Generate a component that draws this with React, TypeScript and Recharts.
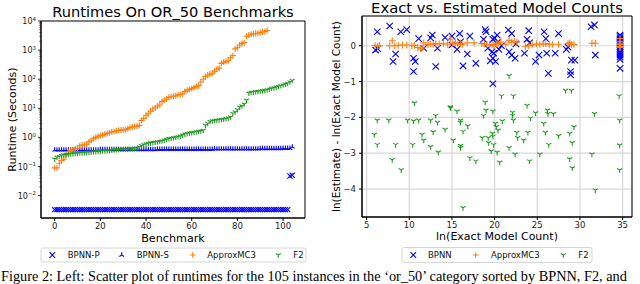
import React from "react";
import { ScatterChart, Scatter, XAxis, YAxis, CartesianGrid, ReferenceArea } from "recharts";

const FONT = "'DejaVu Sans', sans-serif";
const BLUE = "#0000ff";
const ORANGE = "#ff7f0e";
const GREEN = "#1f9a1f";

// left panel: runtime in seconds per benchmark (each series sorted)
const bpnnPRuntime = [
  0.0033, 0.0033, 0.0033, 0.0033, 0.0033, 0.0033, 0.0033, 0.0033, 0.0033, 0.0033,
  0.0033, 0.0033, 0.0033, 0.0033, 0.0033, 0.0033, 0.0033, 0.0033, 0.0033, 0.0033,
  0.0033, 0.0033, 0.0033, 0.0033, 0.0033, 0.0033, 0.0033, 0.0033, 0.0033, 0.0033,
  0.0033, 0.0033, 0.0033, 0.0033, 0.0033, 0.0033, 0.0033, 0.0033, 0.0033, 0.0033,
  0.0033, 0.0033, 0.0033, 0.0033, 0.0033, 0.0033, 0.0033, 0.0033, 0.0033, 0.0033,
  0.0033, 0.0033, 0.0033, 0.0033, 0.0033, 0.0033, 0.0033, 0.0033, 0.0033, 0.0033,
  0.0033, 0.0033, 0.0033, 0.0033, 0.0033, 0.0033, 0.0033, 0.0033, 0.0033, 0.0033,
  0.0033, 0.0033, 0.0033, 0.0033, 0.0033, 0.0033, 0.0033, 0.0033, 0.0033, 0.0033,
  0.0033, 0.0033, 0.0033, 0.0033, 0.0033, 0.0033, 0.0033, 0.0033, 0.0033, 0.0033,
  0.0033, 0.0033, 0.0033, 0.0033, 0.0033, 0.0033, 0.0033, 0.0033, 0.0033, 0.0033,
  0.0033, 0.0033, 0.0033, 0.047, 0.05,
];
const bpnnSRuntime = [
  0.37, 0.37, 0.37, 0.37, 0.37, 0.37, 0.37, 0.37, 0.37, 0.37,
  0.37, 0.37, 0.37, 0.37, 0.37, 0.37, 0.37, 0.37, 0.37, 0.37,
  0.38, 0.38, 0.38, 0.38, 0.38, 0.38, 0.38, 0.38, 0.38, 0.38,
  0.38, 0.38, 0.38, 0.38, 0.38, 0.38, 0.38, 0.38, 0.38, 0.38,
  0.38, 0.38, 0.38, 0.38, 0.38, 0.39, 0.39, 0.39, 0.39, 0.39,
  0.39, 0.39, 0.39, 0.39, 0.39, 0.39, 0.39, 0.39, 0.39, 0.39,
  0.39, 0.39, 0.39, 0.39, 0.39, 0.39, 0.39, 0.39, 0.39, 0.39,
  0.40, 0.40, 0.40, 0.40, 0.40, 0.40, 0.40, 0.40, 0.40, 0.40,
  0.40, 0.40, 0.40, 0.40, 0.40, 0.40, 0.40, 0.40, 0.40, 0.40,
  0.41, 0.41, 0.41, 0.41, 0.41, 0.41, 0.41, 0.41, 0.41, 0.41,
  0.42, 0.42, 0.42, 0.42, 0.47,
];
const approxMC3Runtime = [
  0.09, 0.09, 0.13, 0.16, 0.18, 0.25, 0.32, 0.35, 0.37, 0.4,
  0.42, 0.52, 0.55, 0.56, 0.58, 0.7, 0.8, 0.92, 1.0, 1.1,
  1.15, 1.2, 1.3, 1.37, 1.45, 1.55, 1.6, 1.65, 1.75, 1.8,
  1.8, 1.85, 2.0, 2.2, 2.3, 2.35, 2.4, 2.6, 3.8, 4.5,
  5.8, 6.5, 8.0, 9.5, 10.5, 12, 13, 17, 19, 21,
  24, 25, 26, 27, 29, 30, 31, 38, 42, 44,
  48, 52, 56, 60, 80, 100, 125, 140, 150, 160,
  190, 220, 240, 350, 380, 410, 430, 550, 650, 1100,
  1200, 1500, 1700, 1800, 3000, 3300, 3500, 3600, 3700, 3800,
  4000, 4200, 4400, 4700,
];
const f2Runtime = [
  0.18, 0.21, 0.22, 0.24, 0.25, 0.26, 0.26, 0.27, 0.27, 0.28,
  0.28, 0.29, 0.29, 0.3, 0.3, 0.31, 0.31, 0.32, 0.32, 0.33,
  0.33, 0.34, 0.34, 0.35, 0.35, 0.36, 0.37, 0.38, 0.38, 0.39,
  0.39, 0.4, 0.4, 0.41, 0.41, 0.42, 0.43, 0.46, 0.52, 0.56,
  0.6, 0.62, 0.65, 0.66, 0.68, 0.7, 0.72, 0.75, 0.8, 0.85,
  0.9, 0.93, 0.97, 1.0, 1.05, 1.1, 1.2, 1.3, 1.35, 1.4,
  1.45, 1.5, 1.55, 1.6, 1.65, 1.75, 2.6, 3.0, 3.5, 3.7,
  3.8, 3.9, 4.0, 4.1, 4.2, 4.4, 4.6, 5.0, 6.7, 7.5,
  9.0, 11, 12, 14, 19, 33, 35, 36, 37, 38,
  39, 40, 41, 43, 45, 48, 50, 53, 56, 60,
  63, 68, 72, 80, 90,
];
const runtimeTicksX = [0, 20, 40, 60, 80, 100];
const runtimeDecades = [0.01, 0.1, 1, 10, 100, 1000, 10000];

// right panel: x = ln(exact count), y = ln(estimate) - ln(exact)
const bpnnLnExact = [
  6.05, 6.25, 6.3, 7.7, 8.1, 8.4, 9.0, 9.7, 10.5, 10.5,
  10.7, 11.1, 11.7, 12.5, 12.7, 13.1, 13.3, 14.2, 15.0, 15.0,
  15.6, 15.9, 16.0, 16.3, 16.8, 17.1, 17.8, 18.7, 18.9, 19.0,
  19.2, 19.5, 19.7, 19.8, 19.9, 19.8, 19.8, 20.0, 20.1, 20.3,
  20.4, 20.5, 20.8, 21.6, 21.7, 22.0, 22.0, 22.4, 22.5, 23.5,
  23.8, 24.0, 24.1, 24.8, 25.2, 25.8, 26.0, 26.1, 26.3, 27.1,
  27.5, 28.4, 28.6, 28.9, 28.9, 29.0, 29.4, 31.3, 31.7, 31.8,
  34.7, 34.7, 34.7, 34.7, 34.7, 34.7, 34.7, 34.7, 34.7, 34.7,
  34.7, 34.7, 34.7, 34.7, 34.7,
];
const bpnnLnError = [
  -0.12, 0.39, -0.08, 0.55, -0.44, -0.23, 0.39, 0.45, -0.35, -0.72,
  -0.44, 0.2, -0.07, 0.22, 0.3, -0.58, -0.07, 0.23, 0.27, 0.02,
  -0.1, 0.34, 0.11, -0.56, -0.23, 0.27, -0.49, 0.18, 0.45, 0.39,
  -0.07, -0.42, -0.17, 0.18, -0.21, -0.35, -1.06, 0.21, -0.44, 0.3,
  0.11, -0.1, 0.0, 0.44, -0.17, 0.34, -0.26, -0.35, 0.05, -0.21,
  0.18, 0.42, 0.08, -0.44, -0.26, 0.39, 0.2, -0.21, -0.77, -0.21,
  0.34, -0.1, -0.04, -0.81, -0.72, -0.4, -0.4, 0.53, 0.58, -0.26,
  0.3, 0.26, 0.22, 0.18, 0.13, 0.08, 0.03, -0.03, -0.08, -0.14,
  -0.2, -0.26, -0.32, -0.38, -0.63,
];
const approxLnExact = [
  6.0, 6.3, 6.5, 7.7, 8.0, 8.3, 8.7, 9.2, 9.7, 10.3,
  10.6, 11.0, 11.3, 11.5, 11.7, 12.2, 12.5, 12.8, 13.1, 13.5,
  14.0, 14.5, 14.8, 15.1, 15.4, 15.7, 16.0, 16.2, 16.8, 17.6,
  18.5, 18.8, 19.1, 19.4, 19.7, 19.9, 20.2, 20.4, 20.7, 21.3,
  21.7, 22.0, 22.3, 22.6, 23.6, 24.0, 24.4, 24.9, 25.3, 25.7,
  26.0, 26.4, 26.8, 27.5, 28.6, 28.8, 29.0, 29.3, 31.4, 31.8,
  34.7, 34.7, 34.7, 34.7, 34.7, 34.7,
];
const approxLnError = [
  0.0, -0.02, 0.0, 0.0, 0.14, 0.0, 0.01, 0.02, 0.02, 0.0,
  0.01, -0.05, -0.09, -0.06, 0.08, 0.03, 0.05, 0.04, 0.06, 0.05,
  0.07, 0.04, 0.18, 0.06, 0.08, 0.05, 0.06, 0.04, 0.08, 0.08,
  0.06, 0.05, 0.04, 0.02, 0.03, 0.0, 0.05, 0.07, 0.1, 0.04,
  0.15, 0.1, 0.12, 0.1, -0.03, 0.0, 0.03, 0.05, 0.04, 0.05,
  0.06, 0.04, 0.04, 0.04, 0.06, 0.08, 0.03, 0.03, 0.07, 0.07,
  0.2, 0.12, 0.07, 0.03, -0.02, -0.05,
];
const f2LnExact = [
  5.9, 6.25, 6.25, 7.6, 8.0, 8.4, 9.06, 9.8, 10.4, 10.5,
  10.6, 11.1, 11.5, 11.7, 12.5, 12.5, 12.8, 13.1, 13.3, 13.4,
  14.2, 14.8, 14.85, 15.15, 15.6, 16.0, 16.0, 16.0, 16.0, 16.3,
  16.3, 16.85, 17.1, 17.8, 18.55, 18.7, 18.9, 19.0, 19.25, 19.3,
  19.6, 19.75, 19.8, 19.8, 19.9, 20.1, 20.2, 20.4, 20.3, 20.6,
  20.8, 20.9, 21.7, 21.7, 22.1, 22.1, 22.2, 22.2, 22.4, 22.6,
  22.7, 23.4, 23.8, 23.9, 24.1, 24.2, 24.8, 25.3, 25.75, 25.95,
  26.2, 26.25, 26.35, 26.9, 27.5, 28.3, 28.8, 28.8, 29.0, 29.1,
  29.1, 29.3, 31.4, 31.7, 31.8, 34.6, 34.65, 34.65, 34.65,
];
const f2LnError = [
  -2.48, -2.08, -2.76, -2.08, -3.18, -2.76, -3.47, -2.08, -2.76, -2.1,
  -1.6, -2.08, -2.48, -2.64, -2.08, -2.82, -2.41, -1.95, -2.14, -2.97,
  -2.34, -1.71, -1.74, -2.64, -1.83, -2.08, -2.14, -2.79, -2.85, -2.39,
  -4.52, -2.24, -3.13, -3.22, -2.57, -1.95, -1.58, -1.8, -2.57, -2.71,
  -2.94, -2.45, -2.53, -1.83, -2.76, -2.17, -2.26, -2.36, -2.97, -3.25,
  -1.4, -2.1, -0.84, -2.85, -1.86, -1.95, -1.4, -2.08, -3.03, -2.42,
  -2.57, -2.64, -1.67, -2.42, -3.22, -2.02, -1.88, -3.03, -2.17, -2.42,
  -1.8, -1.9, -2.76, -1.9, -2.51, -1.25, -2.45, -3.16, -1.25, -2.71,
  -3.41, -2.27, -3.03, -1.9, -4.03, -1.4, -2.08, -2.78, -3.47,
];
const countTicksX = [5, 10, 15, 20, 25, 30, 35];
const countTicksY = [0, -1, -2, -3, -4];

type Kind = "x" | "plus" | "triUp" | "triDown";

function markPath(kind: Kind, cx: number, cy: number, r: number) {
  if (kind === "x") return `M${cx - r},${cy - r}L${cx + r},${cy + r}M${cx - r},${cy + r}L${cx + r},${cy - r}`;
  if (kind === "plus") return `M${cx - r},${cy}L${cx + r},${cy}M${cx},${cy - r}L${cx},${cy + r}`;
  const h = 0.866 * r;
  if (kind === "triUp") return `M${cx},${cy}L${cx},${cy - r}M${cx},${cy}L${cx - h},${cy + r / 2}M${cx},${cy}L${cx + h},${cy + r / 2}`;
  return `M${cx},${cy}L${cx},${cy + r}M${cx},${cy}L${cx - h},${cy - r / 2}M${cx},${cy}L${cx + h},${cy - r / 2}`;
}

const marker = (kind: Kind, color: string, r: number) => (p: any) => {
  if (p.cx == null || p.cy == null) return <g />;
  return <path d={markPath(kind, p.cx, p.cy, r)} stroke={color} strokeWidth={1.1} fill="none" />;
};

const logTicks = runtimeDecades.flatMap((d) => [d, 2 * d, 3 * d, 4 * d, 5 * d, 6 * d, 7 * d, 8 * d, 9 * d]).filter((t) => t >= 0.0017 && t <= 10000);

function LogTick(props: any) {
  const { x, y, payload } = props;
  const lg = Math.log10(payload.value);
  const e = Math.round(lg);
  const major = Math.abs(lg - e) < 1e-6;
  if (!major) return <line x1={x - 1.8} x2={x} y1={y} y2={y} stroke="#000" strokeWidth={0.6} />;
  const exp = e < 0 ? "\u2212" + Math.abs(e) : String(e);
  return (
    <g>
      <line x1={x - 3} x2={x} y1={y} y2={y} stroke="#000" strokeWidth={0.8} />
      <text x={x - 5} y={y + 3} textAnchor="end" fontSize={8} fill="#222" fontFamily={FONT}>
        10<tspan dy={-3.5} fontSize={5.5}>{exp}</tspan>
      </text>
    </g>
  );
}

const byIndex = (vals: number[]) => vals.map((y, x) => ({ x, y }));
const zip = (xs: number[], ys: number[]) => xs.map((x, i) => ({ x, y: ys[i] }));

function RuntimeChart() {
  return (
    <ScatterChart width={320} height={284} margin={{ top: 21, right: 15, bottom: 46, left: 0 }}>
      <XAxis type="number" dataKey="x" domain={[-6, 109.6]} allowDataOverflow ticks={runtimeTicksX} height={20}
        tickSize={3} tickMargin={2} stroke="#000" tick={{ fontSize: 8.5, fill: "#222" }} />
      <YAxis type="number" dataKey="y" scale="log" domain={[0.0017, 10000]} allowDataOverflow ticks={logTicks}
        interval={0} width={41} tickLine={false} tickSize={0} tickMargin={0} stroke="#000" tick={<LogTick />} />
      <ReferenceArea x1={-6} x2={109.6} y1={0.0017} y2={10000} fill="none" stroke="#000" strokeWidth={1} fillOpacity={0} />
      <Scatter data={byIndex(bpnnPRuntime)} shape={marker("x", BLUE, 2.6)} isAnimationActive={false} />
      <Scatter data={byIndex(bpnnSRuntime)} shape={marker("triUp", BLUE, 2.8)} isAnimationActive={false} />
      <Scatter data={byIndex(approxMC3Runtime)} shape={marker("plus", ORANGE, 3)} isAnimationActive={false} />
      <Scatter data={byIndex(f2Runtime)} shape={marker("triDown", GREEN, 2.8)} isAnimationActive={false} />
    </ScatterChart>
  );
}

function CountChart() {
  const fmt = (v: number) => (v < 0 ? "\u2212" + Math.abs(v) : String(v));
  return (
    <ScatterChart width={320} height={284} margin={{ top: 16, right: 8, bottom: 47, left: 0 }}>
      <CartesianGrid stroke="#d8d8d8" strokeWidth={1.2} />
      <XAxis type="number" dataKey="x" domain={[4.46, 36.1]} allowDataOverflow ticks={countTicksX} height={20}
        tickSize={3} tickMargin={2} stroke="#000" tick={{ fontSize: 8.5, fill: "#222" }} />
      <YAxis type="number" dataKey="y" domain={[-4.78, 0.83]} allowDataOverflow ticks={countTicksY} width={42}
        tickSize={3} tickMargin={3} stroke="#000" tickFormatter={fmt} tick={{ fontSize: 8.5, fill: "#222" }} />
      <ReferenceArea x1={4.46} x2={36.1} y1={-4.78} y2={0.83} fill="none" stroke="#000" strokeWidth={1} fillOpacity={0} />
      <Scatter data={zip(bpnnLnExact, bpnnLnError)} shape={marker("x", BLUE, 3.2)} isAnimationActive={false} />
      <Scatter data={zip(approxLnExact, approxLnError)} shape={marker("plus", ORANGE, 3.4)} isAnimationActive={false} />
      <Scatter data={zip(f2LnExact, f2LnError)} shape={marker("triDown", GREEN, 3)} isAnimationActive={false} />
    </ScatterChart>
  );
}

function LegendItem({ kind, color, mx, tx, y, label }: { kind: Kind; color: string; mx: number; tx: number; y: number; label: string }) {
  return (
    <g>
      <path d={markPath(kind, mx, y, 2.8)} stroke={color} strokeWidth={1.1} fill="none" />
      <text x={tx} y={y + 3} fontSize={8.5} fill="#111">{label}</text>
    </g>
  );
}

export default function App() {
  return (
    <div style={{ position: "absolute", left: 0, top: 0, width: 640, height: 284, overflow: "hidden", background: "#fff", fontFamily: FONT }}>
      <div style={{ position: "absolute", left: 0, top: 0 }}>
        <RuntimeChart />
      </div>
      <div style={{ position: "absolute", left: 320, top: 0 }}>
        <CountChart />
      </div>
      <svg width={640} height={284} style={{ position: "absolute", left: 0, top: 0, pointerEvents: "none" }} fontFamily={FONT}>
        <text x={173} y={16.7} textAnchor="middle" fontSize={14.6}>Runtimes On OR_50 Benchmarks</text>
        <text x={497} y={13} textAnchor="middle" fontSize={14.8}>Exact vs. Estimated Model Counts</text>
        <text x={173} y={241.5} textAnchor="middle" fontSize={11.2}>Benchmark</text>
        <text x={497} y={240} textAnchor="middle" fontSize={11}>ln(Exact Model Count)</text>
        <text transform="translate(15.5,119.5) rotate(-90)" textAnchor="middle" fontSize={11}>Runtime (Seconds)</text>
        <text transform="translate(340,116.5) rotate(-90)" textAnchor="middle" fontSize={10.5}>ln(Estimate) - ln(Exact Model Count)</text>

        <rect x={41} y={248} width={265} height={14} rx={2} fill="#fff" stroke="#cccccc" strokeWidth={0.8} />
        <LegendItem kind="x" color={BLUE} mx={52.3} tx={67.7} y={255} label="BPNN-P" />
        <LegendItem kind="triUp" color={BLUE} mx={121.7} tx={136.7} y={255} label="BPNN-S" />
        <LegendItem kind="plus" color={ORANGE} mx={192.7} tx={207.3} y={255} label="ApproxMC3" />
        <LegendItem kind="triDown" color={GREEN} mx={278.3} tx={293.3} y={255} label="F2" />

        <rect x={402} y={247.5} width={190} height={15} rx={2} fill="#fff" stroke="#cccccc" strokeWidth={0.8} />
        <LegendItem kind="x" color={BLUE} mx={413.3} tx={428} y={255} label="BPNN" />
        <LegendItem kind="plus" color={ORANGE} mx={475.7} tx={491} y={255} label="ApproxMC3" />
        <LegendItem kind="triDown" color={GREEN} mx={563.3} tx={578.3} y={255} label="F2" />

        <text x={1} y={281} fontFamily="'Liberation Serif', serif" fontSize={14.3}>
          Figure 2: Left: Scatter plot of runtimes for the 105 instances in the ‘or_50’ category sorted by BPNN, F2, and
        </text>
      </svg>
    </div>
  );
}
